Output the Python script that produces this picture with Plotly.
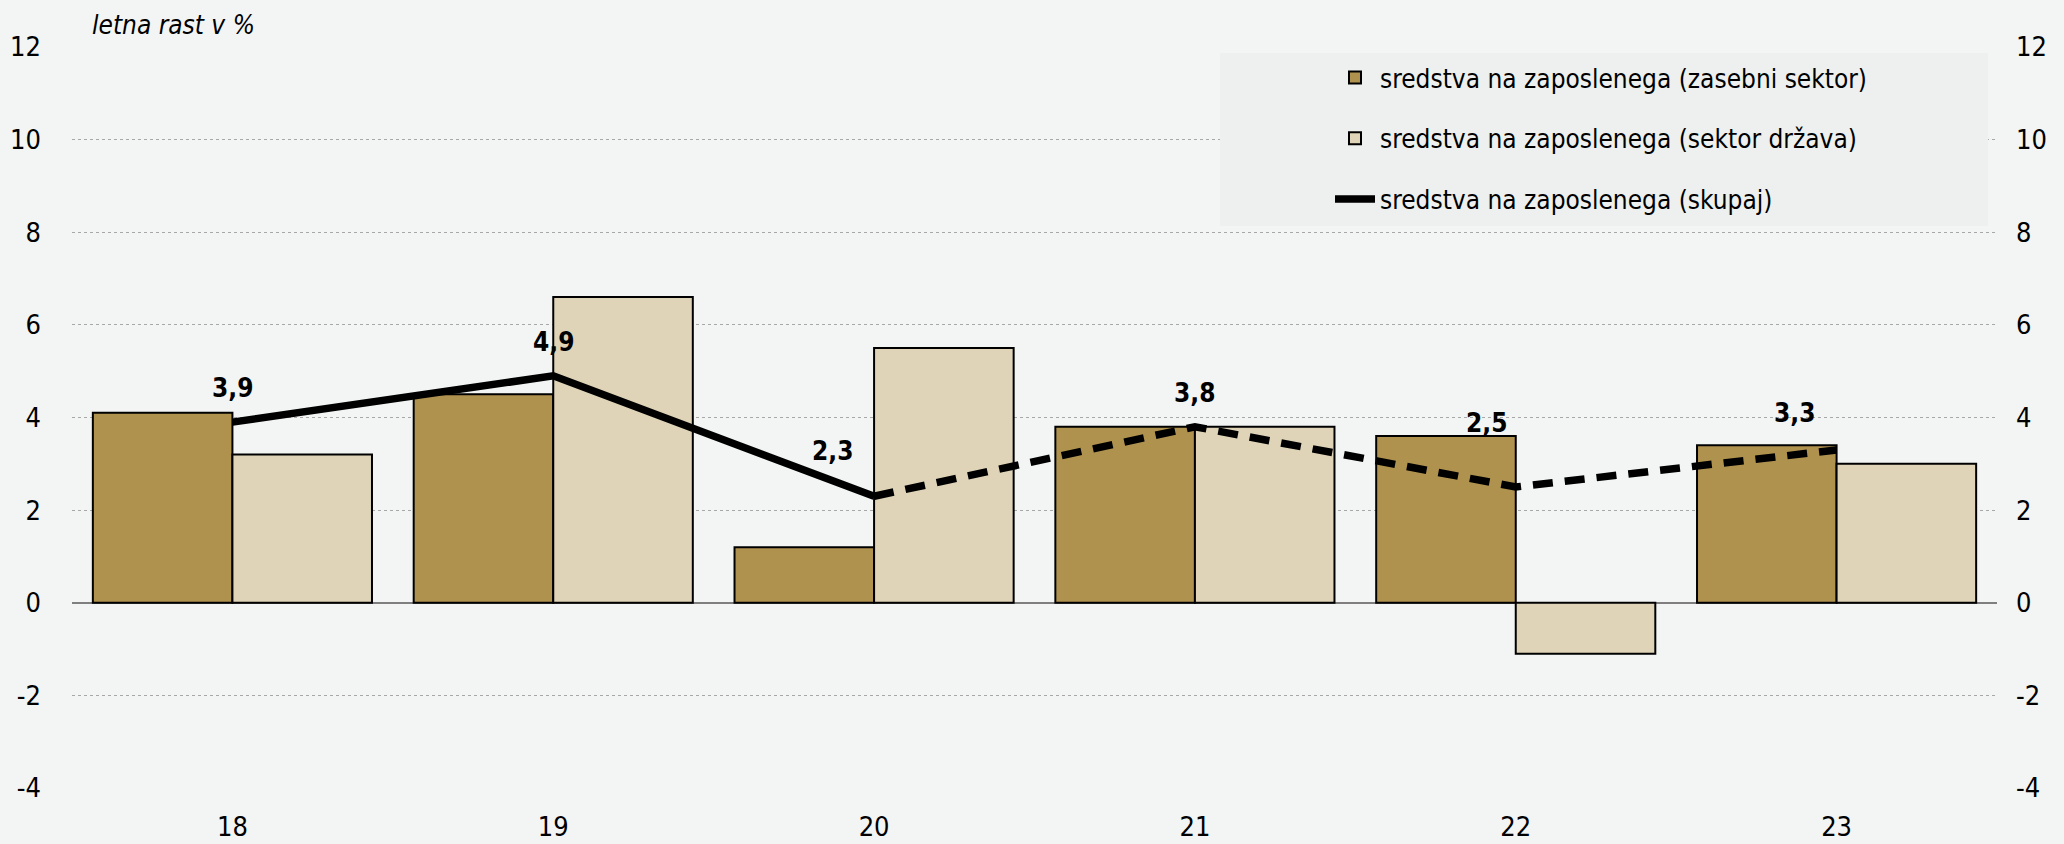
import plotly.graph_objects as go

FONT = "Liberation Sans Narrow, Arial Narrow, DejaVu Sans Condensed, sans-serif"

years = ["18", "19", "20", "21", "22", "23"]
private_sector = [4.1, 4.5, 1.2, 3.8, 3.6, 3.4]
public_sector = [3.2, 6.6, 5.5, 3.8, -1.1, 3.0]
total = [3.9, 4.9, 2.3, 3.8, 2.5, 3.3]
total_labels = ["3,9", "4,9", "2,3", "3,8", "2,5", "3,3"]
y_ticks = [-4, -2, 0, 2, 4, 6, 8, 10, 12]
y_tick_text = ["-4", "-2", "0", "2", "4", "6", "8", "10", "12"]

# label offsets (px) relative to the line point
label_dx = [0, 0, -42, 0, -29, -42]
label_dy = [34, 34, 45, 34, 64, 37]

# plot area in pixels, used to place paper-referenced items
PL, PR, PT, PB = 72, 1997, 47, 788


def px(x):
    return (x - PL) / (PR - PL)


def py(y):
    return (PB - y) / (PB - PT)


fig = go.Figure()

fig.add_trace(
    go.Bar(
        x=years,
        y=private_sector,
        name="sredstva na zaposlenega (zasebni sektor)",
        marker=dict(color="#B0924F", line=dict(color="black", width=2)),
        legendgroup="a",
    )
)
fig.add_trace(
    go.Bar(
        x=years,
        y=public_sector,
        name="sredstva na zaposlenega (sektor država)",
        marker=dict(color="#DFD4B8", line=dict(color="black", width=2)),
        legendgroup="b",
    )
)
# solid part (realised), dashed part (estimate)
fig.add_trace(
    go.Scatter(
        x=years[:3],
        y=total[:3],
        name="sredstva na zaposlenega (skupaj)",
        mode="lines",
        line=dict(color="black", width=7.5),
        legendgroup="c",
    )
)
fig.add_trace(
    go.Scatter(
        x=years[2:],
        y=total[2:],
        mode="lines",
        line=dict(color="black", width=7.5, dash="20px,12px"),
        showlegend=False,
    )
)
# invisible trace so the right-hand axis is drawn
fig.add_trace(
    go.Scatter(x=years, y=total, yaxis="y2", mode="lines", line=dict(width=0),
               opacity=0, showlegend=False, hoverinfo="skip")
)

for i, (val, txt, dx, dy) in enumerate(zip(total, total_labels, label_dx, label_dy)):
    fig.add_annotation(
        x=i,
        y=val,
        text=f"<b>{txt}</b>",
        showarrow=False,
        xshift=dx,
        yshift=dy,
        font=dict(family=FONT, size=26, color="black"),
    )

fig.add_annotation(
    x=px(90),
    y=py(25),
    xref="paper",
    yref="paper",
    text="<i>letna rast v %</i>",
    showarrow=False,
    xanchor="left",
    yanchor="middle",
    font=dict(family=FONT, size=26, color="black"),
)

# legend background box
fig.add_shape(
    type="rect",
    xref="paper",
    yref="paper",
    x0=px(1220),
    x1=px(1988),
    y0=py(226),
    y1=py(53),
    fillcolor="#EDF0EF",
    line_width=0,
    layer="above",
)

axis_common = dict(
    range=[-4, 12],
    tickvals=y_ticks,
    ticktext=y_tick_text,
    showgrid=True,
    gridcolor="#A8A8A8",
    griddash="dot",
    gridwidth=1,
    zeroline=True,
    zerolinecolor="#7F7F7F",
    zerolinewidth=2,
    tickfont=dict(family=FONT, size=27, color="black"),
    showline=False,
    ticks="",
    automargin=False,
)

fig.update_layout(
    width=2064,
    height=844,
    margin=dict(l=PL, r=2064 - PR, t=PT, b=844 - PB),
    paper_bgcolor="#F3F5F5",
    plot_bgcolor="rgba(0,0,0,0)",
    barmode="group",
    bargap=0.13,
    bargroupgap=0,
    font=dict(family=FONT, color="black"),
    xaxis=dict(
        type="category",
        range=[-0.5, 5.5],
        tickfont=dict(family=FONT, size=27, color="black"),
        showgrid=False,
        ticks="",
        ticklabelstandoff=20,
        automargin=False,
    ),
    yaxis=dict(**axis_common, ticklabelstandoff=30),
    yaxis2=dict(
        **axis_common,
        overlaying="y",
        side="right",
        ticklabelstandoff=18,
        matches="y",
    ),
    legend=dict(
        x=px(1330),
        y=py(54),
        xanchor="left",
        yanchor="top",
        bgcolor="rgba(0,0,0,0)",
        font=dict(family=FONT, size=26, color="black"),
        tracegroupgap=24,
        itemwidth=40,
    ),
    showlegend=True,
)

# drop the default page margin so the figure fills the window
fig.write_html(
    "out.html",
    config={"displayModeBar": False},
    post_script="document.body.style.margin='0';document.body.style.overflow='hidden';",
)
